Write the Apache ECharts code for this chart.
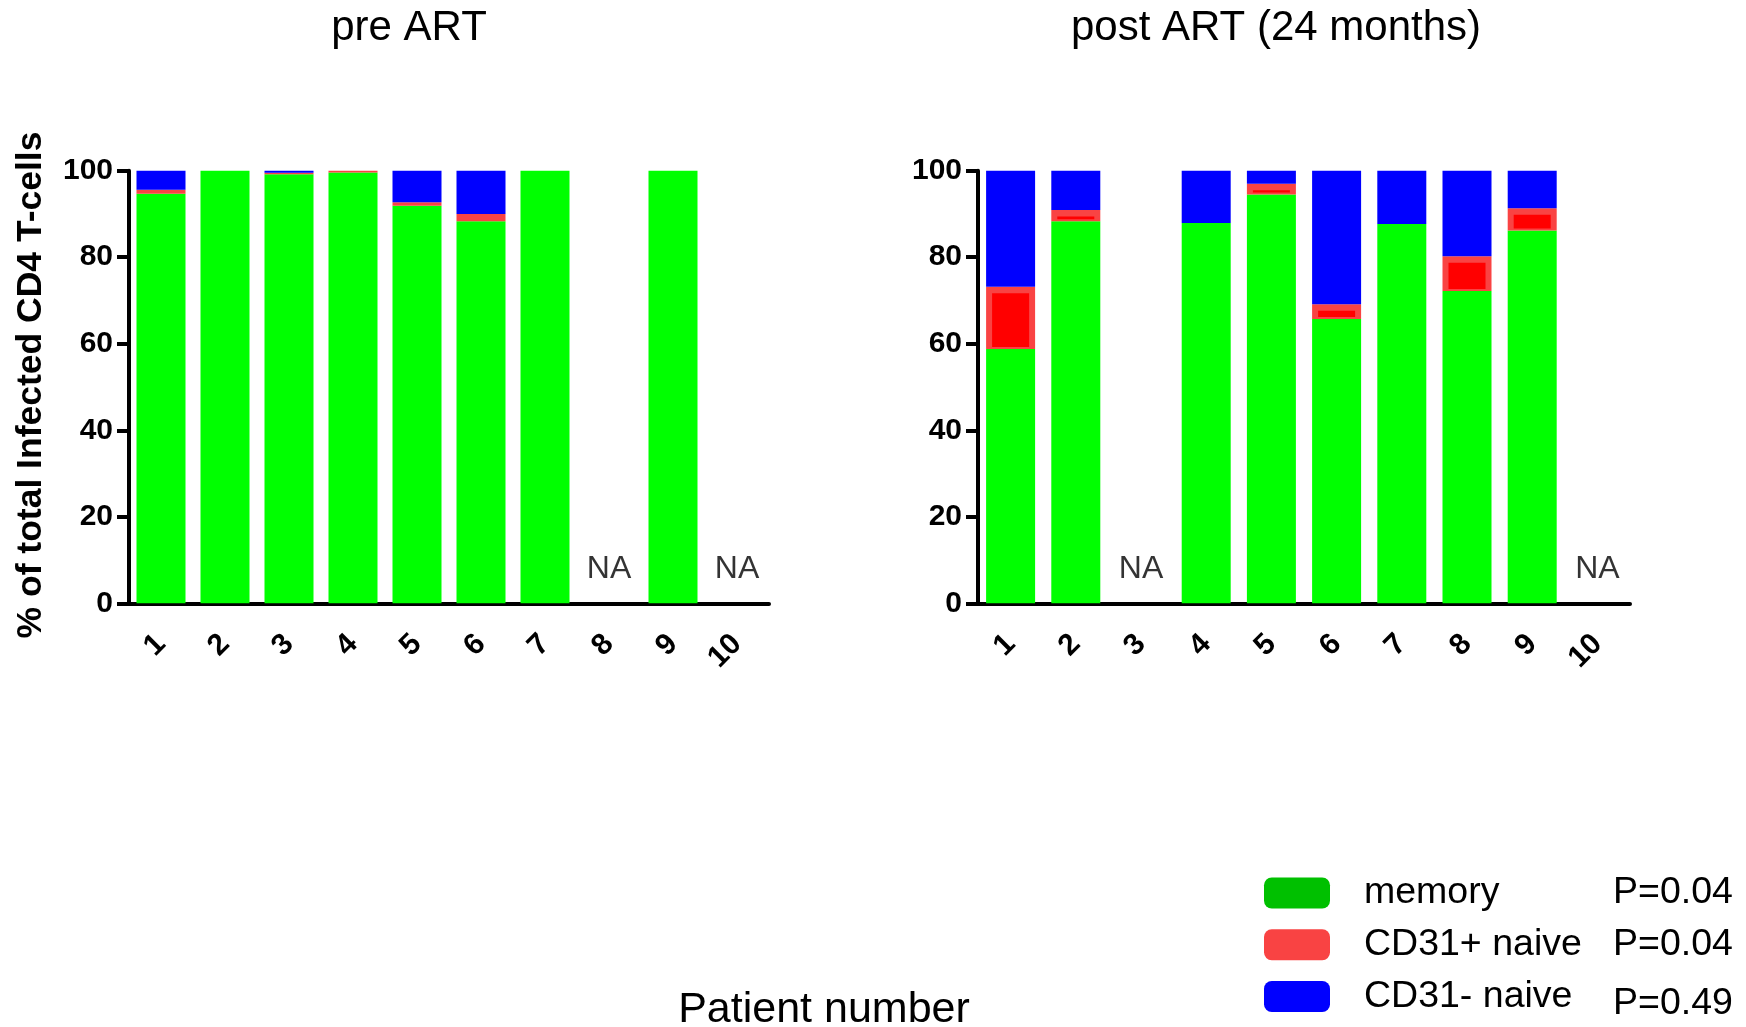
<!DOCTYPE html>
<html>
<head>
<meta charset="utf-8">
<title>Infected CD4 T-cell subsets pre and post ART</title>
<script src="https://cdn.jsdelivr.net/npm/echarts@6/dist/echarts.min.js"></script>
<style>
  html, body { margin: 0; padding: 0; background: #ffffff; }
  #chart { width: 1746px; height: 1027px; }
</style>
</head>
<body>
<div id="chart"></div>
<script>
// Patient numbers on both panels
const categories = ['1', '2', '3', '4', '5', '6', '7', '8', '9', '10'];

// Percent of total infected CD4 T-cells, pre ART (null = not available)
const preMemory   = [94.7, 100, 99.2, 99.6, 91.9, 88.3, 100, null, 100, null];
const preCD31pos  = [0.9,  0,   0.3,  0.4,  0.8,  1.7,  0,   null, 0,   null];
const preCD31neg  = [4.4,  0,   0.5,  0,    7.3,  10.0, 0,   null, 0,   null];

// Percent of total infected CD4 T-cells, post ART (24 months)
const postMemory  = [58.8, 88.3, null, 87.9, 94.5, 65.7, 87.7, 72.2, 86.2, null];
const postCD31pos = [14.4, 2.6,  null, 0,    2.5,  3.4,  0,    8.0,  5.1,  null];
const postCD31neg = [26.8, 9.1,  null, 12.1, 3.0,  30.9, 12.3, 19.8, 8.7,  null];

const panelTitles = ['pre ART', 'post ART (24 months)'];
const subsetNames = ['memory', 'CD31+ naive', 'CD31- naive'];
const pValues = ['P=0.04', 'P=0.04', 'P=0.49'];
const yTicks = [0, 20, 40, 60, 80, 100];

const FONT = "'Liberation Sans', Arial, Helvetica, sans-serif";
const BAR_W = 49;
const NA_Y = 8;

const panels = [
  { memory: preMemory,  pos: preCD31pos,  neg: preCD31neg },
  { memory: postMemory, pos: postCD31pos, neg: postCD31neg }
];

const axisLine = { lineStyle: { color: '#000', width: 4 } };

function xAxisFor(g) {
  return {
    type: 'category', gridIndex: g, data: categories,
    axisLine: axisLine,
    axisTick: { alignWithLabel: true, length: 14, lineStyle: { color: '#000', width: 4 } },
    axisLabel: { rotate: 45, margin: 36, color: '#000', fontFamily: FONT, fontWeight: 'bold', fontSize: 30 }
  };
}
function yAxisFor(g) {
  return {
    type: 'value', gridIndex: g, min: yTicks[0], max: yTicks[yTicks.length - 1], interval: yTicks[1] - yTicks[0],
    axisLine: Object.assign({ show: true }, axisLine),
    axisTick: { show: true, length: 12, lineStyle: { color: '#000', width: 4 } },
    axisLabel: { margin: 16, color: '#000', fontFamily: FONT, fontWeight: 'bold', fontSize: 30 },
    splitLine: { show: false }
  };
}

// Inner core of the CD31+ naive segment, drawn inset from its lighter frame
function renderCore(params, api) {
  const i = api.value(0), base = api.value(1), top = api.value(2);
  const p0 = api.coord([i, base]);
  const p1 = api.coord([i, top]);
  const x = p0[0] - BAR_W / 2 + 6;
  const y = p1[1] + 6.5;
  const h = (p0[1] - 2) - y;
  if (h <= 0) return null;
  return { type: 'rect', shape: { x: x, y: y, width: BAR_W - 12, height: h }, style: { fill: '#FF0000' } };
}

const series = [];
panels.forEach(function (p, g) {
  const common = { type: 'bar', stack: 'panel' + g, xAxisIndex: g, yAxisIndex: g, barWidth: BAR_W };
  series.push(Object.assign({}, common, { name: subsetNames[0], data: p.memory, itemStyle: { color: '#00FF00' } }));
  series.push(Object.assign({}, common, { name: subsetNames[1], data: p.pos, itemStyle: { color: '#F94343' } }));
  series.push(Object.assign({}, common, { name: subsetNames[2], data: p.neg, itemStyle: { color: '#0000FF' } }));

  const cores = [];
  p.memory.forEach(function (m, i) {
    if (m != null && p.pos[i] > 0) cores.push([i, m, m + p.pos[i]]);
  });
  series.push({
    type: 'custom', name: 'core' + g, xAxisIndex: g, yAxisIndex: g, silent: true, z: 3,
    renderItem: renderCore, encode: { x: 0, y: [1, 2] }, data: cores
  });

  const na = [];
  p.memory.forEach(function (m, i) { if (m == null) na.push([i, NA_Y]); });
  series.push({
    type: 'scatter', name: 'na' + g, xAxisIndex: g, yAxisIndex: g, silent: true,
    symbolSize: 0, data: na,
    label: { show: true, position: 'inside', formatter: 'NA', color: '#000', fontFamily: FONT, fontSize: 32 }
  });
});

const legendColors = ['#00C000', '#F94343', '#0000FF'];

// One legend block per subset, stacked down the lower right corner
const legends = subsetNames.map(function (n, i) {
  return {
    orient: 'vertical', left: 1259, top: 869 + i * 51.7,
    itemWidth: 66, itemHeight: 31, icon: 'roundRect',
    selectedMode: false,
    data: [{ name: n, itemStyle: { color: legendColors[i] } }],
    formatter: function (name) {
      return '{n|' + name + '}{p|' + pValues[i] + '}';
    },
    textStyle: {
      color: '#000', fontFamily: FONT, fontSize: 37.5,
      rich: {
        n: { width: 249, padding: [0, 0, 0, 29], fontFamily: FONT, fontSize: 37.5, color: '#000' },
        p: { fontFamily: FONT, fontSize: 37.5, color: '#000', padding: [i === 2 ? 14 : 0, 0, 0, 0] }
      }
    }
  };
});

const option = {
  animation: false,
  backgroundColor: '#ffffff',
  grid: [
    { left: 129, width: 640, top: 170.7, height: 432.6 },
    { left: 978, width: 652, top: 170.7, height: 432.6 }
  ],
  xAxis: [xAxisFor(0), xAxisFor(1)],
  yAxis: [yAxisFor(0), yAxisFor(1)],
  legend: legends,
  graphic: [
    { type: 'text', x: 409, y: 28, style: { text: panelTitles[0], fill: '#000', font: '42px ' + FONT, align: 'center', verticalAlign: 'middle' } },
    { type: 'text', x: 1276, y: 28, style: { text: panelTitles[1], fill: '#000', font: '42px ' + FONT, align: 'center', verticalAlign: 'middle' } },
    { type: 'text', x: 31, y: 385, rotation: Math.PI / 2, style: { text: '% of total Infected CD4 T-cells', fill: '#000', font: 'bold 35.5px ' + FONT, align: 'center', verticalAlign: 'middle' } },
    { type: 'text', x: 824, y: 1010, style: { text: 'Patient number', fill: '#000', font: '43px ' + FONT, align: 'center', verticalAlign: 'middle' } }
  ],
  series: series
};

const chart = echarts.init(document.getElementById('chart'), null, { renderer: 'canvas' });
chart.setOption(option);
</script>
</body>
</html>
